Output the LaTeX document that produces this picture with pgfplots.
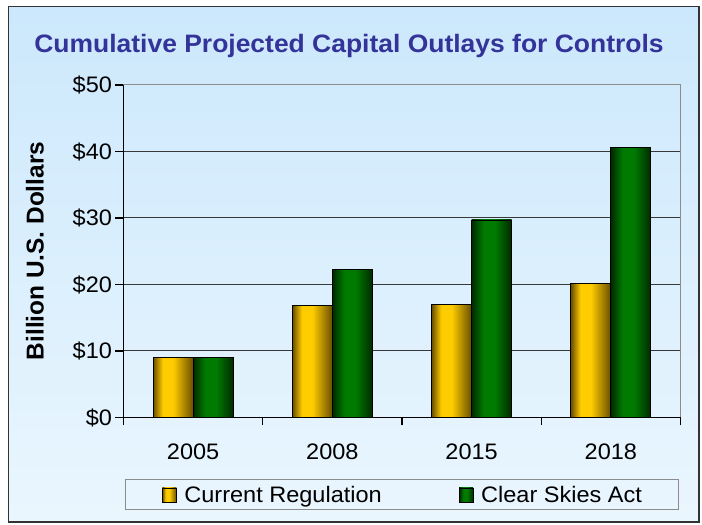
\documentclass[border=0pt]{standalone}
\usepackage{pgfplots}
\pgfplotsset{compat=1.18}
\usepackage{fontspec}
\setmainfont{Liberation Sans}[FakeStretch=1.05]
\newfontfamily\ylabfont{Liberation Sans}
\definecolor{gdark}{RGB}{105,78,0}
\definecolor{gbright}{RGB}{255,204,0}
\definecolor{kdark}{RGB}{0,42,0}
\definecolor{kbright}{RGB}{0,122,0}
\definecolor{titleblue}{RGB}{51,51,153}
\definecolor{bgtop}{RGB}{204,232,252}
\definecolor{bgbot}{RGB}{234,246,254}
\pgfdeclarehorizontalshading{goldbar}{100bp}{color(0bp)=(gdark); color(25bp)=(gdark); color(37bp)=(gbright); color(50bp)=(gbright); color(75bp)=(gdark); color(100bp)=(gdark)}
\pgfdeclarehorizontalshading{greenbar}{100bp}{color(0bp)=(kdark); color(25bp)=(kdark); color(40bp)=(kbright); color(54bp)=(kbright); color(75bp)=(kdark); color(100bp)=(kdark)}
\pgfplotsset{
  goldstyle/.style={ybar, bar width=40pt, bar shift=-20pt, draw=black, line width=0.8pt, shading=goldbar},
  greenstyle/.style={ybar, bar width=40pt, bar shift=20pt, draw=black, line width=0.8pt, shading=greenbar},
}
\begin{document}
\begin{tikzpicture}[x=1pt,y=1pt]
\fill[white] (0,0) rectangle (702,525);
\shade[top color=bgtop, bottom color=bgbot] (8.5,3) rectangle (699,518.5);
\draw[black!80, line width=1.2pt] (8.5,3) rectangle (699,518.5);
\node[anchor=base, font=\fontsize{25.2}{30}\selectfont\bfseries, text=titleblue, inner sep=0pt] at (349,472) {Cumulative Projected Capital Outlays for Controls};
\node[rotate=90, font=\ylabfont\fontsize{24.4}{28}\selectfont\bfseries, inner sep=0pt] at (35,274) {Billion U.S. Dollars};
\begin{axis}[
  at={(123.5pt,107.5pt)}, anchor=south west,
  scale only axis, width=557pt, height=332.5pt,
  xmin=-0.5, xmax=3.5, ymin=0, ymax=50,
  clip=false,
  axis x line*=bottom, axis y line*=left,
  axis line style={black, line width=1.2pt},
  tick align=outside, major tick length=8pt,
  tick style={black, line width=1.2pt},
  xtick={-0.5,0.5,1.5,2.5,3.5}, xticklabels={},
  extra x ticks={0,1,2,3}, extra x tick labels={2005,2008,2015,2018},
  extra x tick style={tick style={draw=none}, xticklabel style={anchor=base, yshift=-33.5pt}},
  ytick={0,10,20,30,40,50},
  yticklabels={\$0,\$10,\$20,\$30,\$40,\$50},
  ymajorgrids, grid style={black!78, line width=1pt},
  tick label style={font=\fontsize{22.4}{27}\selectfont},
  legend style={at={(0.5,-0.185)}, anchor=north, legend columns=2,
    draw=black!45, line width=1pt, fill=none,
    font=\fontsize{22.4}{27}\selectfont, inner xsep=37pt, inner ysep=6pt,
    nodes={inner sep=0pt},
    /tikz/every even column/.append style={column sep=77pt}},
  legend cell align=left,
  legend image code/.code={\draw[#1] (0pt,-7pt) rectangle (14pt,7pt);
    \pgfpathmoveto{\pgfqpoint{22pt}{9.4pt}}\pgfusepath{discard}},
]
\addplot[goldstyle] coordinates {(0,9.0)};
\addplot[goldstyle, forget plot] coordinates {(1,16.8)};
\addplot[goldstyle, forget plot] coordinates {(2,17.0)};
\addplot[goldstyle, forget plot] coordinates {(3,20.1)};
\addplot[greenstyle] coordinates {(0,9.0)};
\addplot[greenstyle, forget plot] coordinates {(1,22.2)};
\addplot[greenstyle, forget plot] coordinates {(2,29.7)};
\addplot[greenstyle, forget plot] coordinates {(3,40.6)};
\draw[black!45, line width=1pt] (rel axis cs:0,1) -- (rel axis cs:1,1) -- (rel axis cs:1,0);
\legend{Current Regulation, Clear Skies Act}
\end{axis}
\end{tikzpicture}
\end{document}
